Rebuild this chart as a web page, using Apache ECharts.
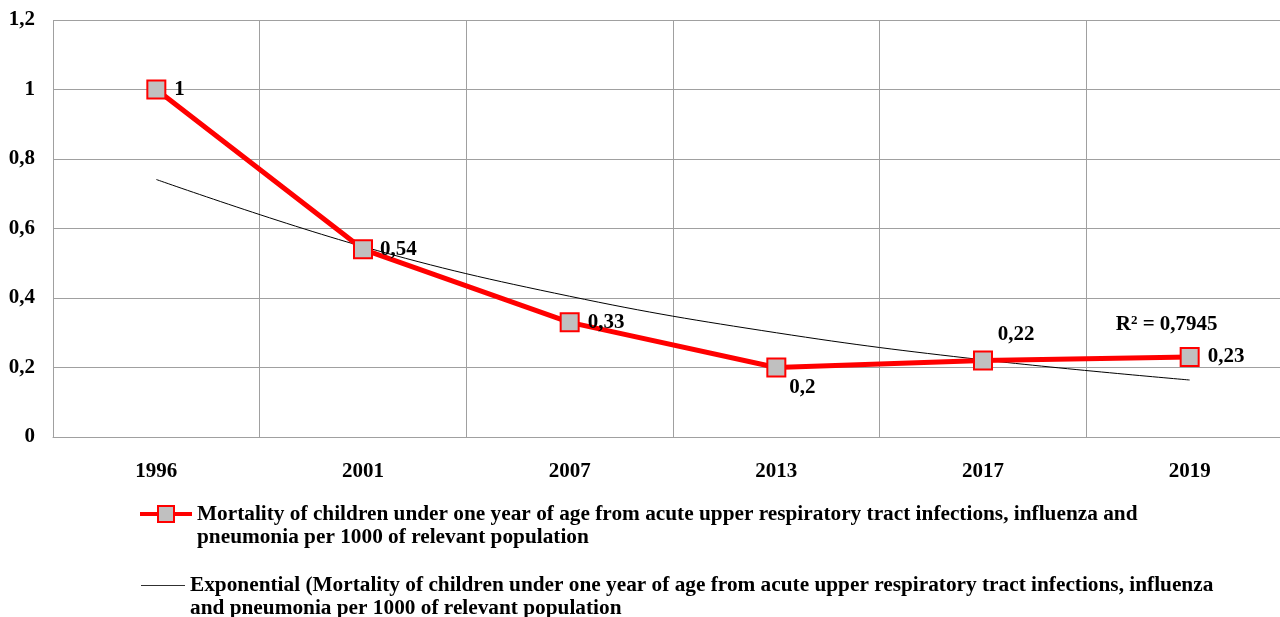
<!DOCTYPE html>
<html>
<head>
<meta charset="utf-8">
<script src="https://cdn.jsdelivr.net/npm/echarts@6/dist/echarts.min.js"></script>
<style>html,body{margin:0;padding:0;background:#fff;overflow:hidden;width:1280px;height:617px;}#c{width:1293px;height:617px;}</style>
</head>
<body>
<div id="c"></div>
<script>
const categories = ['1996', '2001', '2007', '2013', '2017', '2019'];
const mortality = [1, 0.54, 0.33, 0.2, 0.22, 0.23];
const trendValues = [0.741, 0.548, 0.405, 0.300, 0.222, 0.164];
const yTicks = [0, 0.2, 0.4, 0.6, 0.8, 1, 1.2];
const rSquared = '0,7945';
const seriesName = 'Mortality of children under one year of age from acute upper respiratory tract infections, influenza and pneumonia per 1000 of relevant population';
const trendName = 'Exponential (Mortality of children under one year of age from acute upper respiratory tract infections, influenza and pneumonia per 1000 of relevant population';

const FONT = "'Liberation Serif', 'Times New Roman', serif";
const fmt = v => String(v).replace('.', ',');

// label placement per point (offsets only)
const labelPos = [
  {position: 'right', offset: [0, 0]},
  {position: 'right', offset: [-1, 0]},
  {position: 'right', offset: [0, 0]},
  {position: 'right', offset: [-5, 20]},
  {position: 'top', offset: [33, 3]},
  {position: 'right', offset: [0, 0]}
];

const chart = echarts.init(document.getElementById('c'));
chart.setOption({
  animation: false,
  textStyle: {fontFamily: FONT},
  grid: {left: 53, top: 20, right: 0, bottom: 180, containLabel: false},
  xAxis: {
    type: 'category',
    data: categories,
    boundaryGap: true,
    axisLine: {show: true, lineStyle: {color: '#a0a0a0', width: 1}},
    axisTick: {show: false},
    axisLabel: {fontFamily: FONT, fontWeight: 'bold', fontSize: 21, color: '#000', margin: 24},
    splitLine: {show: true, interval: 0, lineStyle: {color: '#a0a0a0', width: 1}}
  },
  yAxis: {
    type: 'value',
    min: yTicks[0], max: yTicks[yTicks.length - 1], interval: 0.2,
    axisLine: {show: false},
    axisTick: {show: false},
    axisLabel: {fontFamily: FONT, fontWeight: 'bold', fontSize: 21, color: '#000', margin: 18,
      formatter: v => fmt(Math.round(v * 10) / 10)},
    splitLine: {show: true, lineStyle: {color: '#a0a0a0', width: 1}}
  },
  legend: [
    {
      data: [seriesName],
      left: 138, top: 479.5, padding: 0,
      itemWidth: 52, itemHeight: 20,
      lineStyle: {width: 4},
      formatter: () => '\nMortality of children under one year of age from acute upper respiratory tract infections, influenza and\npneumonia per 1000 of relevant population',
      textStyle: {fontFamily: FONT, fontWeight: 'bold', fontSize: 21.3, lineHeight: 23, color: '#000'}
    },
    {
      data: [{name: trendName, icon: 'rect'}],
      left: 141, top: 551, padding: 0,
      itemWidth: 44, itemHeight: 1,
      itemStyle: {color: '#303030'},
      formatter: () => '\nExponential (Mortality of children under one year of age from acute upper respiratory tract infections, influenza\nand pneumonia per 1000 of relevant population',
      textStyle: {fontFamily: FONT, fontWeight: 'bold', fontSize: 21.3, lineHeight: 23, color: '#000'}
    }
  ],
  series: [
    {
      name: trendName,
      type: 'line',
      data: trendValues.map((v, i) => i === trendValues.length - 1 ? {
        value: v,
        symbol: 'circle',
        symbolSize: 1,
        itemStyle: {color: 'rgba(0,0,0,0)', borderWidth: 0},
        label: {
          show: true, position: 'top', offset: [-23, -39],
          formatter: () => '{r|R}{s|2}{r| = ' + rSquared + '}',
          rich: {
            r: {fontFamily: FONT, fontWeight: 'bold', fontSize: 21, color: '#000'},
            s: {fontFamily: FONT, fontWeight: 'bold', fontSize: 13, color: '#000', verticalAlign: 'top', padding: [0, 0, 8, 0]}
          }
        }
      } : v),
      smooth: 0.4,
      symbol: 'none',
      lineStyle: {color: '#000', width: 1},
      itemStyle: {color: '#000'},
      z: 3
    },
    {
      name: seriesName,
      type: 'line',
      data: mortality.map((v, i) => ({value: v, label: labelPos[i]})),
      symbol: 'rect',
      symbolSize: 18,
      lineStyle: {color: '#ff0000', width: 5},
      itemStyle: {color: '#c0c0c0', borderColor: '#ff0000', borderWidth: 2},
      label: {
        show: true, distance: 8,
        fontFamily: FONT, fontWeight: 'bold', fontSize: 21, color: '#000',
        formatter: p => fmt(p.value)
      },
      z: 4
    }
  ]
});
</script>
</body>
</html>
